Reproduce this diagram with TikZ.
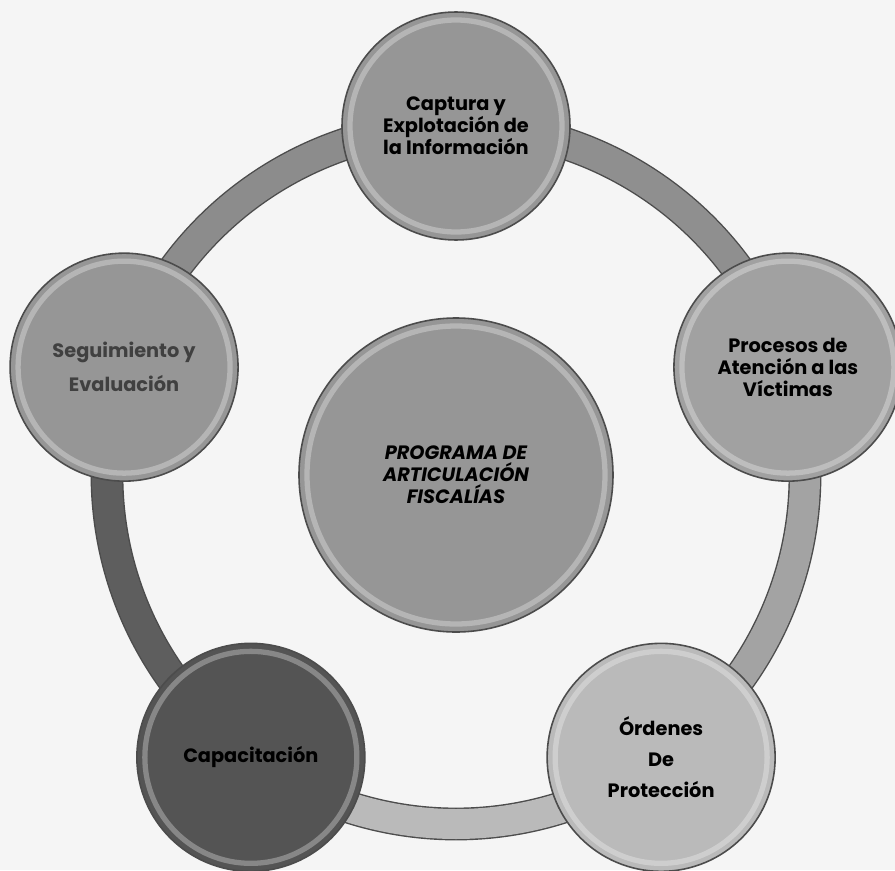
\documentclass[tikz,border=0pt]{standalone}
\usepackage{fontspec}
\setmainfont{Poppins}
\usetikzlibrary{backgrounds}

\begin{document}
\begin{tikzpicture}[
    ball/.style={circle, draw=black!70, line width=0.9pt, minimum size=4.56cm, inner sep=0pt, align=center,
        font=\bfseries\fontsize{11}{12.5}\selectfont,
        path picture={\draw[white, opacity=0.3, line width=3pt] (path picture bounding box.center) circle[radius=2.12cm];}},
    hub/.style={ball, minimum size=6.28cm, font=\bfseries\itshape\fontsize{11}{12.5}\selectfont,
        path picture={\draw[white, opacity=0.3, line width=3pt] (path picture bounding box.center) circle[radius=2.98cm];}},
    band/.style={draw=black!70, line width=0.8pt, double=#1, double distance=0.6cm}
]
\useasboundingbox (-9.12,-7.9) rectangle (8.78,9.5);

% Center
\node[hub, fill=black!41] (prog) at (0,0) {PROGRAMA DE\\ARTICULACIÓN\\FISCALÍAS};

% Outer circles
\node[ball, fill=black!41] (captura) at (90:6.98) {Captura y\\Explotación de\\la Información};
\node[ball, fill=black!37] (procesos) at (18:6.98) {Procesos de\\Atención a las\\Víctimas};
\node[ball, fill=black!27] (ordenes) at (-54:6.98) {Órdenes\\[5pt]De\\[5pt]Protección};
\node[ball, fill=black!67] (capac) at (-126:6.98) {Capacitación};
\node[ball, fill=black!41, text=black!75] (seguim) at (162:6.98) {Seguimiento y\\[7pt]Evaluación};

% Ring
\begin{scope}[on background layer]
\fill[black!4] (-9.12,-7.9) rectangle (8.78,9.5);
\draw[band=black!45] (captura.center) arc[start angle=90, end angle=162, radius=6.98];
\draw[band=black!63] (seguim.center) arc[start angle=162, end angle=234, radius=6.98];
\draw[band=black!27] (capac.center) arc[start angle=234, end angle=306, radius=6.98];
\draw[band=black!36] (ordenes.center) arc[start angle=306, end angle=378, radius=6.98];
\draw[band=black!44] (procesos.center) arc[start angle=18, end angle=90, radius=6.98];
\end{scope}

\end{tikzpicture}
\end{document}
